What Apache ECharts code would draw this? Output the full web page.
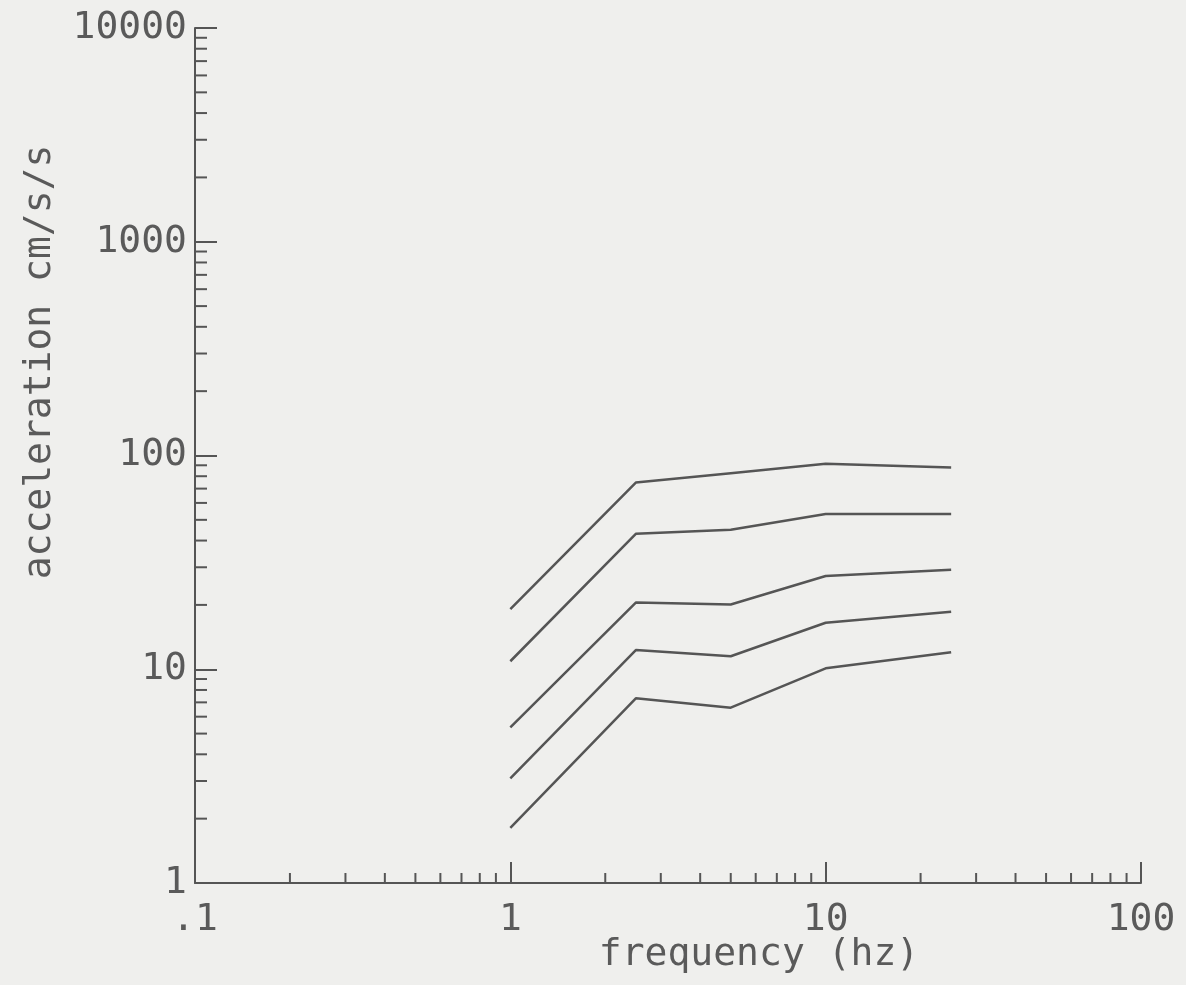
<!DOCTYPE html>
<html>
<head>
<meta charset="utf-8">
<script src="https://cdn.jsdelivr.net/npm/echarts@6/dist/echarts.min.js"></script>
<style>
html,body{margin:0;padding:0;background:#efefed;}
#chart{width:1186px;height:985px;}
</style>
</head>
<body>
<div id="chart"></div>
<script>
const frequencies = [1, 2.5, 5, 10, 25];
const curve1 = [19.1, 74.7, 82.6, 91.4, 87.8];
const curve2 = [10.9, 43.0, 44.9, 53.3, 53.3];
const curve3 = [5.35, 20.5, 20.1, 27.3, 29.2];
const curve4 = [3.09, 12.3, 11.5, 16.5, 18.6];
const curve5 = [1.81, 7.31, 6.61, 10.1, 12.0];
const curves = [curve1, curve2, curve3, curve4, curve5];

const xRange = [0.1, 100];
const yRange = [1, 10000];
const xMinorTicks = [0.2,0.3,0.4,0.5,0.6,0.7,0.8,0.9, 2,3,4,5,6,7,8,9, 20,30,40,50,60,70,80,90];
const yMinorTicks = [2,3,4,5,6,7,8,9, 20,30,40,50,60,70,80,90, 200,300,400,500,600,700,800,900, 2000,3000,4000,5000,6000,7000,8000,9000];

const xTitle = 'frequency (hz)';
const yTitle = 'acceleration cm/s/s';

const ink = '#555555';
const textInk = '#5a5a5a';
const font = '"DejaVu Sans Mono", "Liberation Mono", monospace';
const fontSize = 38;

function fmt(v) {
  const n = +(+v).toPrecision(6);
  return n < 1 ? String(n).replace(/^0/, '') : String(n);
}

const chart = echarts.init(document.getElementById('chart'));

const lineSeries = curves.map((c, i) => ({
  type: 'line',
  name: 'curve' + (i + 1),
  data: frequencies.map((f, j) => [f, c[j]]),
  symbol: 'none',
  lineStyle: { color: ink, width: 2.5 },
  silent: true,
  animation: false
}));

const xMinorSeries = {
  type: 'custom',
  silent: true,
  animation: false,
  data: xMinorTicks.map(v => [v, yRange[0]]),
  renderItem: function (params, api) {
    const p = api.coord([api.value(0), api.value(1)]);
    return { type: 'line', shape: { x1: p[0], y1: p[1], x2: p[0], y2: p[1] - 10 }, style: { stroke: ink, lineWidth: 2 } };
  }
};
const yMinorSeries = {
  type: 'custom',
  silent: true,
  animation: false,
  data: yMinorTicks.map(v => [xRange[0], v]),
  renderItem: function (params, api) {
    const p = api.coord([api.value(0), api.value(1)]);
    return { type: 'line', shape: { x1: p[0], y1: p[1], x2: p[0] + 12, y2: p[1] }, style: { stroke: ink, lineWidth: 2 } };
  }
};

chart.setOption({
  backgroundColor: '#efefed',
  animation: false,
  grid: { left: 195, right: 45, top: 28, bottom: 102, containLabel: false },
  xAxis: {
    type: 'log', logBase: 10, min: xRange[0], max: xRange[1],
    axisLine: { show: true, lineStyle: { color: ink, width: 2 } },
    axisTick: { show: true, inside: true, length: 21, lineStyle: { color: ink, width: 2 } },
    minorTick: { show: false },
    splitLine: { show: false },
    axisLabel: { formatter: fmt, color: textInk, fontFamily: font, fontSize: fontSize, margin: 18 }
  },
  yAxis: {
    type: 'log', logBase: 10, min: yRange[0], max: yRange[1],
    axisLine: { show: true, lineStyle: { color: ink, width: 2 } },
    axisTick: { show: true, inside: true, length: 22, lineStyle: { color: ink, width: 2 } },
    minorTick: { show: false },
    splitLine: { show: false },
    axisLabel: { formatter: fmt, color: textInk, fontFamily: font, fontSize: fontSize, margin: 8 }
  },
  graphic: [
    { type: 'text', x: 759, y: 955, style: { text: xTitle, fill: textInk, font: fontSize + 'px ' + font, align: 'center', verticalAlign: 'middle' } },
    { type: 'text', x: 40, y: 362, rotation: Math.PI / 2, style: { text: yTitle, fill: textInk, font: fontSize + 'px ' + font, align: 'center', verticalAlign: 'middle' } }
  ],
  series: lineSeries.concat([xMinorSeries, yMinorSeries])
});
</script>
</body>
</html>
